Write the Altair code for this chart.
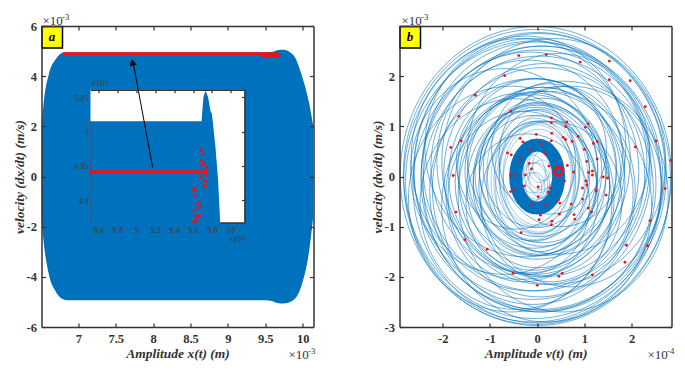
import altair as alt
import pandas as pd

BLUE = "#0072BD"
RED = "#F0101A"
DARK = "#333333"
SERIF = "Liberation Serif"
W, H = 272, 301

# ---- panel a: envelope of the dense trajectory (x in 1e-3 m, v in 1e-3 m/s)
env_x = [6.508, 6.54, 6.606, 6.70, 6.79, 6.85, 7.5, 9.5, 9.6, 9.66, 9.74, 9.88, 9.99, 10.08, 10.145]
env_top = [1.95, 3.02, 4.08, 4.68, 4.93, 4.95, 4.95, 4.95, 4.97, 5.03, 5.05, 4.82, 4.02, 3.02, 1.96]
env_bot = [-1.7, -2.7, -3.9, -4.6, -4.88, -4.93, -4.93, -4.93, -4.97, -5.04, -5.06, -4.92, -4.3, -3.1, -1.5]

# inset of panel a
ins_x = [8.515, 9.0, 9.5, 9.69, 9.71, 9.732, 9.76, 9.785, 9.80, 9.838, 9.866, 9.887]
ins_top = [5.015, 5.015, 5.015, 5.015, 5.05, 5.06, 5.05, 5.03, 5.026, 4.977, 4.929, 4.869]
ins_red_x = [9.679, 9.690, 9.704, 9.683, 9.704, 9.690, 9.714, 9.697, 9.679, 9.725, 9.739, 9.714, 9.732, 9.619,
             9.601, 9.633, 9.608, 9.661, 9.644, 9.679, 9.601, 9.654, 9.633, 9.661, 9.626, 9.679, 9.601, 9.640]
ins_red_y = [4.975, 4.972, 4.967, 4.958, 4.956, 4.951, 4.953, 4.936, 4.933, 4.929, 4.927, 4.922, 4.919, 4.918,
             4.915, 4.914, 4.907, 4.898, 4.894, 4.891, 4.885, 4.888, 4.878, 4.876, 4.873, 4.878, 4.869, 4.869]

# ---- panel b: section points (x in 1e-4, y in 1e-3)
sec_x = [-0.39,0.19,0.91,1.53,1.53,1.97,-0.69,-1.31,2.29,-1.66,-0.56,0.30,0.30,0.63,0.60,1.08,1.02,0.87,0.31,0.55,
         0.60,-0.02,-0.36,-0.30,0.30,0.74,1.19,1.27,-1.61,-1.83,2.52,2.08,0.08,-0.14,1.0,-0.63,-0.55,0.17,1.27,1.05,
         2.83,-0.35,-0.17,0.64,0.25,-0.12,0.77,1.09,1.17,1.17,1.40,1.49,-1.78,-0.56,-0.48,-0.25,1.03,0.58,1.05,-0.27,
         0.02,0.28,0.96,-0.48,2.71,1.25,-0.56,0.23,1.25,1.46,0.02,0.96,0.45,-0.13,0.18,0.48,0.72,1.08,1.15,-1.72,
         0.07,0.47,0.78,0.80,0.04,0.31,0.30,2.39,-0.34,-1.53,-1.06,1.89,2.34,1.86,-0.51,0.53,0.46,1.17,0.0]
sec_y = [2.41,2.43,2.28,2.30,1.93,1.91,2.01,1.62,1.39,1.20,1.30,1.17,1.07,1.09,0.99,1.05,0.98,0.80,0.86,0.78,
         0.74,0.84,0.76,0.69,0.71,0.70,0.66,0.70,0.71,0.58,0.71,0.59,0.65,0.54,0.54,0.47,0.43,0.46,0.35,0.30,
         0.32,0.34,0.26,0.22,0.21,0.15,0.09,0.08,0.11,0.03,-0.01,-0.03,0.02,0.03,0.03,0.03,-0.09,-0.09,-0.17,-0.19,
         -0.21,-0.23,-0.23,-0.26,-0.24,-0.27,-0.30,-0.31,-0.29,-0.37,-0.40,-0.45,-0.47,-0.55,-0.57,-0.53,-0.55,-0.63,-0.71,-0.71,
         -0.77,-0.75,-0.76,-0.85,-0.86,-0.89,-0.96,-0.88,-1.12,-1.26,-1.45,-1.37,-1.38,-1.71,-1.93,-1.93,-1.99,-1.96,-2.17]

# orbit loops: centre and vertical radius
outer_cx = [-0.03,0.0,-0.05,-0.08,0.05,0.0,0.1,-0.1,0.05,-0.02,0.12,-0.15,0.1,-0.1,0.15,-0.2,0.05,0.55,-0.55,0.35,-0.35,0.7,-0.7,0.2,-0.25,0.45,-0.45]
outer_cy = [0.02,-0.05,0.05,-0.1,0.1,-0.2,-0.05,0.15,-0.15,0.2,-0.25,0.1,0.3,-0.3,0.05,0.2,-0.35,-0.4,-0.45,0.3,0.35,-0.2,0.1,-0.6,0.6,0.45,-0.55]
outer_r = [2.97,2.92,2.88,2.80,2.75,2.72,2.65,2.6,2.55,2.48,2.42,2.38,2.3,2.25,2.2,2.12,2.05,2.3,2.25,2.45,2.4,2.0,2.05,2.3,2.2,2.0,2.1]

mid_cx = [-0.05,0.1,0.0,-0.1,0.1,0.02,-0.08,0.05,0.12,-0.05,0.03,-0.1,0.1,-0.02,0.3,-0.3,0.5,-0.45,0.25,-0.2]
mid_cy = [0.0,-0.1,0.15,-0.12,0.1,-0.2,0.12,-0.05,0.12,-0.18,0.14,0.02,-0.14,0.18,-0.5,-0.4,0.4,0.3,0.55,-0.55]
mid_r = [1.95,1.88,1.8,1.75,1.68,1.62,1.55,1.5,1.44,1.4,1.34,1.3,1.25,1.2,1.6,1.7,1.4,1.35,1.3,1.4]

inner_cx = [0.05,-0.08,0.06,0.0,-0.05,0.04,0.0,-0.03,0.03,0.0,0.02,-0.02,0.03,-0.03,0.05,-0.04,
            0.08,-0.08,0.1,-0.1,0.12,-0.12]
inner_cy = [-0.08,0.1,-0.2,0.1,-0.1,0.05,-0.05,0.08,-0.1,0.03,-0.02,0.05,0.12,-0.12,0.2,-0.2,
            0.15,-0.15,-0.05,0.05,0.22,-0.22]
inner_r = [1.42,1.36,1.3,1.24,1.2,1.16,1.12,1.08,1.04,1.0,0.55,0.5,0.45,0.4,0.32,0.28,
           0.42,0.42,0.38,0.38,0.3,0.3]

ring_cx, ring_cy, ring_r = [0.0], [0.0], [0.63]
focus_x, focus_y = [0.449], [0.107]

A_X = [7, 7.5, 8, 8.5, 9, 9.5, 10]
A_Y = [-6, -4, -2, 0, 2, 4, 6]
INS_X = [8.6, 8.8, 9, 9.2, 9.4, 9.6, 9.8, 10]
INS_Y = [4.9, 4.95, 5, 5.05]
B_X = [-2, -1, 0, 1, 2]
B_Y = [-3, -2, -1, 0, 1, 2]

A_DX, A_DY = [6.508, 10.145], [-6, 6]
B_DX, B_DY = [-2.917, 2.846], [-3, 3]
I_DX, I_DY = [8.515, 10.145], [4.867, 5.061]
FULL_XR, FULL_YR = [0, W], [H, 0]
I_XR, I_YR = [49, 203], [197, 63.7]


def sx(dom, rng, axis=None, field="x"):
    return alt.X(f"{field}:Q", scale=alt.Scale(domain=dom, range=rng, nice=False, zero=False), axis=axis)


def sy(dom, rng, axis=None, field="y"):
    return alt.Y(f"{field}:Q", scale=alt.Scale(domain=dom, range=rng, nice=False, zero=False), axis=axis)


EXPR = "'' + datum.value"


def tick_axes(orient, offset, values, size=4, domain=True, width=1.5, color=DARK):
    return alt.Axis(orient=orient, offset=offset, values=values, labels=False, title=None, grid=False,
                    tickSize=size, tickWidth=1.2, tickColor=color, domain=domain, domainColor=color,
                    domainWidth=width, zindex=1)


def hidden(xd, yd, xr, yr, ax_x, ax_y):
    df = pd.DataFrame({"x": xd, "y": yd})
    return alt.Chart(df).mark_point(opacity=0).encode(x=sx(xd, xr, ax_x), y=sy(yd, yr, ax_y))


def frame(xd, yd, xt, yt):
    return [
        # bottom and left frame, ticks pointing inward
        hidden(xd, yd, FULL_XR, FULL_YR, tick_axes("top", -H, xt), tick_axes("right", -W, yt)),
        # top and right frame, ticks pointing inward
        hidden(xd, yd, FULL_XR, FULL_YR, tick_axes("bottom", -H, xt), tick_axes("left", -W, yt)),
    ]


def labels(xd, yd, xt, yt, xtitle, ytitle):
    common = dict(ticks=False, domain=False, grid=False, labelPadding=5, labelExpr=EXPR,
                  labelFont=SERIF, labelFontWeight="bold", labelFontSize=12.5, labelColor=DARK,
                  titleFont=SERIF, titleFontWeight="bold", titleFontStyle="italic", titleFontSize=13.5,
                  titleColor=DARK)
    ax = alt.Axis(values=xt, title=xtitle, titlePadding=2, **common)
    ay = alt.Axis(values=yt, title=ytitle, titlePadding=0, **common)
    return hidden(xd, yd, FULL_XR, FULL_YR, ax, ay)


def note(text, x, y, size=12, align="left", color=DARK, **kw):
    return alt.Chart(pd.DataFrame({"t": [text]})).mark_text(
        font=SERIF, fontSize=size, align=align, baseline="middle", color=color, **kw
    ).encode(x=alt.value(x), y=alt.value(y), text="t:N")


def badge(letter):
    box = alt.Chart(pd.DataFrame({"t": [letter]})).mark_rect(fill="#FFFF00", stroke="black", strokeWidth=1.5).encode(
        x=alt.value(0.5), x2=alt.value(21), y=alt.value(0.5), y2=alt.value(22))
    txt = note(letter, 10.5, 11, size=13, align="center", color="black", fontWeight="bold", fontStyle="italic")
    return [box, txt]


def scale_note(x, y, exp, size=13):
    k = size / 13
    return [note("×10", x, y, size=size), note(exp, x + 19.5 * k, y - 4 * k, size=size * 0.68)]


# ---------------- panel a
layers_a = []
df_env = pd.DataFrame({"x": env_x, "y": env_top, "y2": env_bot})
layers_a.append(alt.Chart(df_env).mark_area(color=BLUE, interpolate="monotone", clip=True).encode(
    x=sx(A_DX, FULL_XR), y=sy(A_DY, FULL_YR), y2="y2:Q"))
layers_a.append(labels(A_DX, A_DY, A_X, A_Y, "Amplitude x(t) (m)", "velocity (dx/dt) (m/s)"))

# inset background and content
df_bg = pd.DataFrame({"x": [I_DX[0]], "x2": [I_DX[1]], "y": [I_DY[0]], "y2": [I_DY[1]]})
layers_a.append(alt.Chart(df_bg).mark_rect(fill="white").encode(
    x=sx(I_DX, I_XR), x2="x2:Q", y=sy(I_DY, I_YR), y2="y2:Q"))
df_ins = pd.DataFrame({"x": ins_x, "y": ins_top, "y2": [I_DY[0]] * len(ins_x)})
layers_a.append(alt.Chart(df_ins).mark_area(color=BLUE, clip=False).encode(
    x=sx(I_DX, I_XR), y=sy(I_DY, I_YR), y2="y2:Q"))
# visible part of the inset's bottom line and faint left line
layers_a.append(alt.Chart(pd.DataFrame({"x": [9.887], "x2": [10.145], "y": [4.867]})).mark_rule(
    color=DARK, strokeWidth=1.5).encode(x=sx(I_DX, I_XR), x2="x2:Q", y=sy(I_DY, I_YR)))
layers_a.append(alt.Chart(pd.DataFrame({"x": [8.515], "y": [4.867], "y2": [5.015]})).mark_rule(
    color="#1F5F92", strokeWidth=1).encode(x=sx(I_DX, I_XR), y=sy(I_DY, I_YR), y2="y2:Q"))
# inset top and right frame
ins_axes = hidden(I_DX, I_DY, I_XR, I_YR,
                  tick_axes("bottom", -(H - I_YR[1]), INS_X, size=3),
                  tick_axes("left", -I_XR[1], INS_Y, size=3))
layers_a.append(ins_axes)
# inset labels
lab_kw = dict(ticks=False, domain=False, grid=False, title=None, labelExpr=EXPR, labelFont=SERIF,
              labelFontWeight="bold", labelFontSize=8.5, labelColor="#3a4a55", zindex=1)
layers_a.append(hidden(I_DX, I_DY, I_XR, I_YR,
                       alt.Axis(orient="bottom", offset=-(H - I_YR[0]), values=INS_X, labelPadding=2, **lab_kw),
                       alt.Axis(orient="left", offset=-I_XR[0], values=INS_Y, labelPadding=2, **lab_kw)))
# inset red
layers_a.append(alt.Chart(pd.DataFrame({"x": [8.505], "x2": [9.749], "y": [4.9417]})).mark_rule(
    color=RED, strokeWidth=3).encode(x=sx(I_DX, I_XR), x2="x2:Q", y=sy(I_DY, I_YR)))
layers_a.append(alt.Chart(pd.DataFrame({"x": [9.749], "y": [4.934], "y2": [4.95]})).mark_rule(
    color=RED, strokeWidth=2).encode(x=sx(I_DX, I_XR), y=sy(I_DY, I_YR), y2="y2:Q"))
layers_a.append(alt.Chart(pd.DataFrame({"x": ins_red_x, "y": ins_red_y})).mark_point(
    color=RED, filled=True, opacity=1, size=8).encode(x=sx(I_DX, I_XR), y=sy(I_DY, I_YR)))
# main red line
for x0, x1, yv, sw in [(6.79, 9.68, 4.9, 2.8), (9.45, 9.7, 4.8, 3.5)]:
    layers_a.append(alt.Chart(pd.DataFrame({"x": [x0], "x2": [x1], "y": [yv]})).mark_rule(
        color=RED, strokeWidth=sw).encode(x=sx(A_DX, FULL_XR), x2="x2:Q", y=sy(A_DY, FULL_YR)))
# arrow
layers_a.append(alt.Chart(pd.DataFrame({"x": [7.995], "x2": [7.73], "y": [0.36], "y2": [4.6]})).mark_rule(
    color="black", strokeWidth=1).encode(x=sx(A_DX, FULL_XR), x2="x2:Q", y=sy(A_DY, FULL_YR), y2="y2:Q"))
layers_a.append(alt.Chart(pd.DataFrame({"x": [7.725], "y": [4.55]})).mark_point(
    shape="triangle-up", filled=True, color="black", opacity=1, size=55, angle=349).encode(
    x=sx(A_DX, FULL_XR), y=sy(A_DY, FULL_YR)))
layers_a += frame(A_DX, A_DY, A_X, A_Y)
layers_a += badge("a")
layers_a += scale_note(1, -5, "-3")
layers_a += scale_note(247, 328.5, "-3")
layers_a += scale_note(50, 58, "-3", size=8)
layers_a += scale_note(187, 214, "-3", size=8)
panel_a = alt.layer(*layers_a).resolve_scale(x="independent", y="independent").properties(width=W, height=H)


# ---------------- panel b
def ell(a):
    k = 0.5523
    return (f"M{-a},0C{-a},{-k} {-a*k},-1 0,-1C{a*k},-1 {a},{-k} {a},0"
            f"C{a},{k} {a*k},1 0,1C{-a*k},1 {-a},{k} {-a},0Z")


SZ = alt.Size("r:Q", scale=alt.Scale(type="pow", exponent=2, domain=[0, 3], range=[0, 90601]), legend=None)


def loops(cx, cy, r, a, sw=0.7, color=BLUE, op=0.8):
    df = pd.DataFrame({"x": cx, "y": cy, "r": r})
    return alt.Chart(df).mark_point(shape=ell(a), filled=False, stroke=color, strokeWidth=sw, opacity=op,
                                    clip=True).encode(x=sx(B_DX, FULL_XR), y=sy(B_DY, FULL_YR), size=SZ)


layers_b = [
    loops(outer_cx, outer_cy, outer_r, 0.91),
    loops(mid_cx, mid_cy, mid_r, 0.88),
    loops(inner_cx, inner_cy, inner_r, 0.68, sw=0.6, op=0.6),
    loops(ring_cx, ring_cy, ring_r, 0.68, 13, op=1),
    labels(B_DX, B_DY, B_X, B_Y, "Amplitude v(t) (m)", "velocity (dv/dt) (m/s)"),
    alt.Chart(pd.DataFrame({"x": sec_x, "y": sec_y})).mark_point(color=RED, filled=True, opacity=1, size=8, clip=True).encode(
        x=sx(B_DX, FULL_XR), y=sy(B_DY, FULL_YR)),
    alt.Chart(pd.DataFrame({"x": focus_x, "y": focus_y})).mark_point(color=RED, filled=False, opacity=1, size=70, strokeWidth=3).encode(
        x=sx(B_DX, FULL_XR), y=sy(B_DY, FULL_YR)),
    alt.Chart(pd.DataFrame({"x": focus_x, "y": focus_y})).mark_point(color=BLUE, filled=True, opacity=1, size=9).encode(
        x=sx(B_DX, FULL_XR), y=sy(B_DY, FULL_YR)),
]
layers_b += frame(B_DX, B_DY, B_X, B_Y)
layers_b += badge("b")
layers_b += scale_note(2, -5, "-3")
layers_b += scale_note(248, 328.5, "-4")
panel_b = alt.layer(*layers_b).resolve_scale(x="independent", y="independent").properties(width=W, height=H)

chart = (
    alt.hconcat(panel_a, panel_b, spacing=86, bounds="flush")
    .properties(padding={"left": 3.5, "top": 5, "right": 0, "bottom": 0}, background="white")
    .configure_view(stroke=None)
)
chart.save("out.html", embed_options={"renderer": "svg", "actions": False})
